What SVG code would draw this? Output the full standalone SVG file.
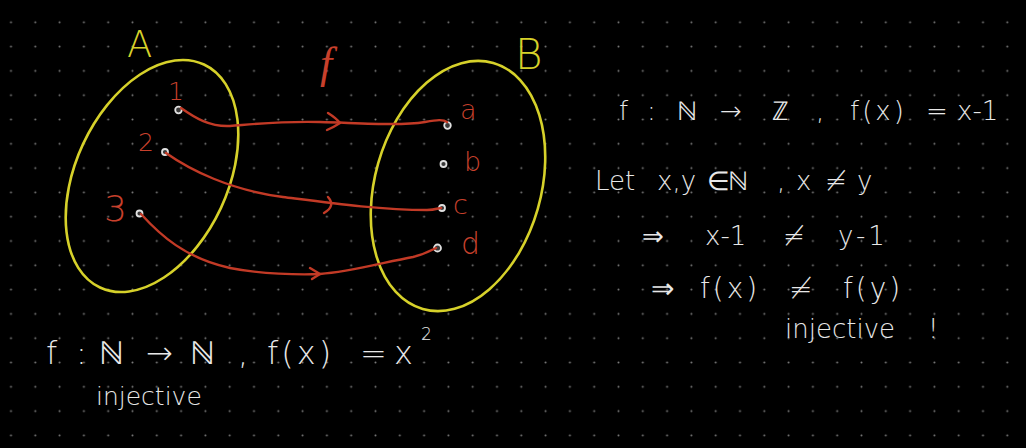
<svg xmlns="http://www.w3.org/2000/svg" width="1026" height="448" viewBox="0 0 1026 448">
<defs>
<pattern id="grid" patternUnits="userSpaceOnUse" x="-1.15" y="10.15" width="24.3" height="24.3">
<circle cx="12.15" cy="12.15" r="1" fill="#7a7a7a"/>
</pattern>
<style>
.set{fill:none;stroke:#d6d12a;stroke-width:2.6}
.setlbl{fill:#d6d12a;font-family:"DejaVu Sans",sans-serif;font-weight:200}
.elbl{fill:#c8402c;font-family:"DejaVu Sans",sans-serif;font-weight:200}
.pt{fill:#3a3a3a;stroke:#e0e0e0;stroke-width:1.8}
.map{fill:none;stroke:#c23a26;stroke-width:2.4;stroke-linecap:round;stroke-linejoin:round}
.note{fill:#e8e8e8;font-family:"DejaVu Sans","Liberation Sans",sans-serif;font-weight:200}
.wide{letter-spacing:3px}
</style>
</defs>
<rect width="1026" height="448" fill="#000"/>
<rect width="1026" height="448" fill="url(#grid)"/>

<g id="setA">
<ellipse class="set" cx="152" cy="176" rx="123" ry="76" transform="rotate(-65 152 176)"/>
<text class="setlbl" x="127" y="57" font-size="37">A</text>
</g>
<g id="setB">
<ellipse class="set" cx="458" cy="186" rx="128" ry="83" transform="rotate(-74 458 186)"/>
<text class="setlbl" x="515" y="69" font-size="42">B</text>
</g>
<g id="label-f">
<text x="320" y="78" font-size="44" fill="#c8402c" font-family="'Liberation Serif',serif" font-style="italic">f</text>
</g>

<g id="el-1"><circle class="pt" cx="178.5" cy="110" r="3.3"/><text class="elbl" x="168" y="100" font-size="25">1</text></g>
<g id="el-2"><circle class="pt" cx="165" cy="152" r="3"/><text class="elbl" x="138" y="151" font-size="25">2</text></g>
<g id="el-3"><circle class="pt" cx="139.5" cy="213.5" r="3"/><text class="elbl" x="104" y="221" font-size="36">3</text></g>
<g id="el-a"><circle class="pt" cx="447.5" cy="125.5" r="3.3"/><text class="elbl" x="460" y="119" font-size="27">a</text></g>
<g id="el-b"><circle class="pt" cx="443.5" cy="164" r="3"/><text class="elbl" x="464" y="171" font-size="27">b</text></g>
<g id="el-c"><circle class="pt" cx="442" cy="208" r="3"/><text class="elbl" x="453" y="214" font-size="27">c</text></g>
<g id="el-d"><circle class="pt" cx="437.5" cy="248" r="3.5"/><text class="elbl" x="461" y="254" font-size="30">d</text></g>

<g id="connectors">
<path class="map" d="M181,108 C195,118 210,127 230,126 C255,124 280,121 320,122 C360,123 400,126 425,122 C437,120 443,119 447,122"/>
<path class="map" d="M328,113 Q336,118 340,123 Q334,127 327,130"/>
<path class="map" d="M166,153 C190,170 230,190 283,197 C330,203 380,210 427,210 C435,210 439,208 441,208"/>
<path class="map" d="M328,197 Q336,206 324,213"/>
<path class="map" d="M141,214 C160,235 185,258 230,268 C260,274 300,275 320,274 C350,272 385,262 413,257 C425,254 432,250 436,248"/>
<path class="map" d="M310,268 L320,274 L312,279"/>
</g>

<g id="proof">
<text class="note" font-size="26" y="120"><tspan x="619">f</tspan><tspan x="647">:</tspan><tspan x="677">ℕ</tspan><tspan x="720">→</tspan><tspan x="772">ℤ</tspan><tspan x="816">,</tspan><tspan x="850" class="wide">f(x)</tspan><tspan x="926">=</tspan><tspan x="957">x-1</tspan></text>
<text class="note" font-size="26" y="190"><tspan x="595">Let</tspan><tspan x="657">x,y</tspan><tspan x="707">∈</tspan><tspan x="728">ℕ</tspan><tspan x="777">,</tspan><tspan x="796">x</tspan><tspan x="825">≠</tspan><tspan x="857">y</tspan></text>
<text class="note" font-size="26" y="245"><tspan x="642">⇒</tspan><tspan x="705">x-1</tspan><tspan x="783">≠</tspan><tspan x="838" class="wide">y-1</tspan></text>
<text class="note" font-size="28" y="298"><tspan x="651">⇒</tspan><tspan x="700" class="wide">f(x)</tspan><tspan x="789">≠</tspan><tspan x="843" class="wide">f(y)</tspan></text>
<text class="note" font-size="26" y="338"><tspan x="785">injective</tspan><tspan x="928">!</tspan></text>
</g>

<g id="example">
<text class="note" font-size="32" y="364"><tspan x="46">f</tspan><tspan x="76">:</tspan><tspan x="99">ℕ</tspan><tspan x="146">→</tspan><tspan x="190">ℕ</tspan><tspan x="238">,</tspan><tspan x="267" class="wide">f(x)</tspan><tspan x="360">=</tspan><tspan x="394">x</tspan></text>
<text class="note" font-size="17" x="421" y="340">2</text>
<text class="note" font-size="25" x="96" y="405">injective</text>
</g>
</svg>
